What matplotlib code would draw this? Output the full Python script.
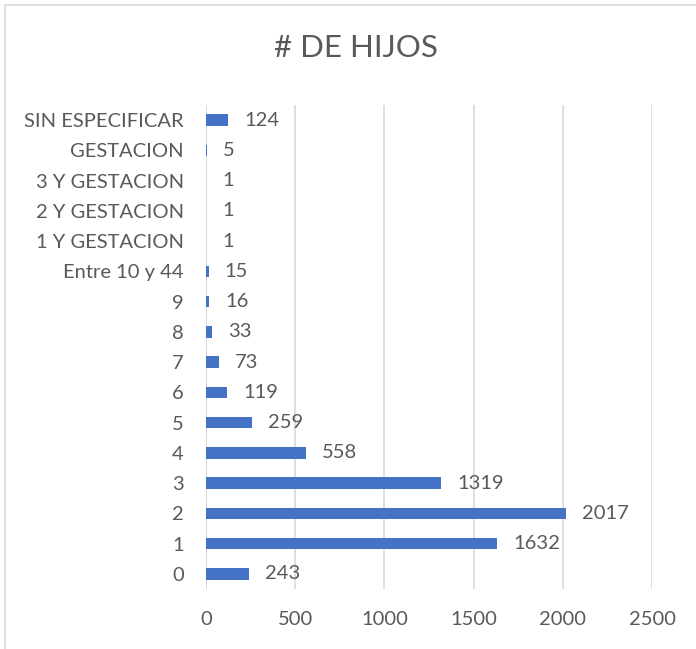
import matplotlib
matplotlib.use("Agg")
import matplotlib.pyplot as plt
from matplotlib.patches import Rectangle

categories = ["0", "1", "2", "3", "4", "5", "6", "7", "8", "9",
              "Entre 10 y 44", "1 Y GESTACION", "2 Y GESTACION",
              "3 Y GESTACION", "GESTACION", "SIN ESPECIFICAR"]
values = [243, 1632, 2017, 1319, 558, 259, 119, 73, 33, 16, 15, 1, 1, 1, 5, 124]
xticks = [0, 500, 1000, 1500, 2000, 2500]
title = "# DE HIJOS"

text_color = "#595959"
bar_color = "#4472C4"
grid_color = "#D9D9D9"
font = "Lato"
fs = 14.5

fig = plt.figure(figsize=(6.96, 6.49), dpi=100)
fig.patches.append(Rectangle((5/696, -0.1), 1.2, 1 - 5/649 + 0.1,
                             transform=fig.transFigure, fill=False,
                             edgecolor=grid_color, linewidth=1.2))
ax = fig.add_axes([206/696, 1 - 589/649, (652 - 206)/696, (589 - 105)/649])

y = list(range(len(categories)))
ax.barh(y, values, height=0.38, color=bar_color, zorder=3)
for yi, v in zip(y, values):
    ax.text(v + 90, yi, str(v), va="center", ha="left", fontsize=fs,
            color=text_color, family=font)

ax.set_xlim(0, 2500)
ax.set_ylim(-0.5, len(categories) - 0.5)
ax.set_xticks(xticks)
ax.set_xticklabels([str(t) for t in xticks], fontsize=fs, color=text_color, family=font)
ax.set_yticks(y)
ax.set_yticklabels(categories, fontsize=fs, color=text_color, family=font)
ax.tick_params(axis="both", length=0)
ax.tick_params(axis="x", pad=16)
ax.tick_params(axis="y", pad=16)
ax.grid(axis="x", color=grid_color, linewidth=1.2, zorder=0)
for s in ax.spines.values():
    s.set_visible(False)
ax.axvline(0, color=grid_color, linewidth=1.2, zorder=1)

fig.text(356/696, 1 - 48/649, title, ha="center", va="center", fontsize=22.5,
         color=text_color, family=font)

fig.savefig("out.png", dpi=100)
